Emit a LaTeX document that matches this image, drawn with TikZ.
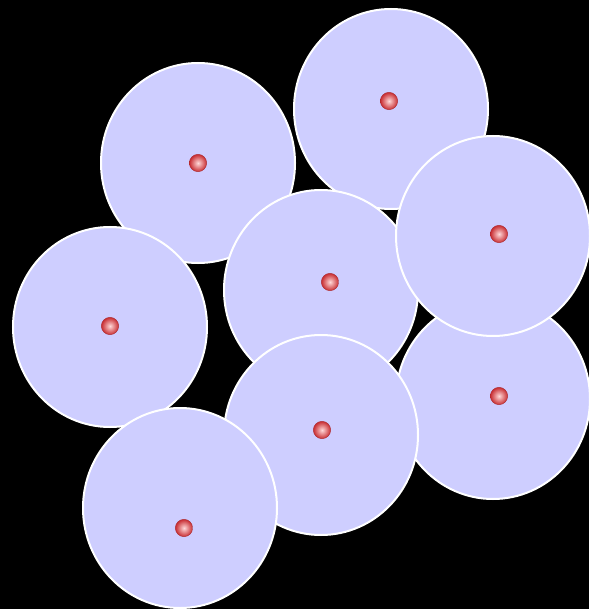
\documentclass[tikz,border=0pt]{standalone}
\usepackage{tikz}
\usetikzlibrary{shapes.geometric}
\usetikzlibrary{positioning}

\definecolor{diskfill}{RGB}{206,206,255}
\definecolor{dotred}{RGB}{200,45,50}

\begin{document}
\begin{tikzpicture}[x=0.75pt, y=-0.75pt]
\tikzset{
  disk/.style={fill=diskfill, draw=white, line width=1.5pt, ellipse, inner sep=0pt, minimum width=145.5pt, minimum height=150pt},
  dot/.style={circle, inner sep=0pt, minimum size=13pt, inner color=red!15, outer color=dotred, draw=dotred!85!black, line width=0.3pt}
}
\useasboundingbox (0,0) rectangle (588,609);
\fill[black] (-6,-6) rectangle (594,615);

\node[disk] (A) at (198,163) {};
\node[disk] (B) at (391,109) {};
\node[disk] (E) at (110,327) {};
\node[disk] (D) at (321,290) {};
\node[disk] (F) at (493,399) {};
\node[disk] (C) at (493,236) {};
\node[disk] (G) at (321,435) {};
\node[disk] (H) at (180,508) {};


\node[dot] (a) at (198,163) {};
\node[dot] (b) at (389,101) {};
\node[dot] (c) at (499,234) {};
\node[dot] (d) at (330,282) {};
\node[dot] (e) at (110,326) {};
\node[dot] (f) at (499,396) {};
\node[dot] (g) at (322,430) {};
\node[dot] (h) at (184,528) {};
\end{tikzpicture}
\end{document}
